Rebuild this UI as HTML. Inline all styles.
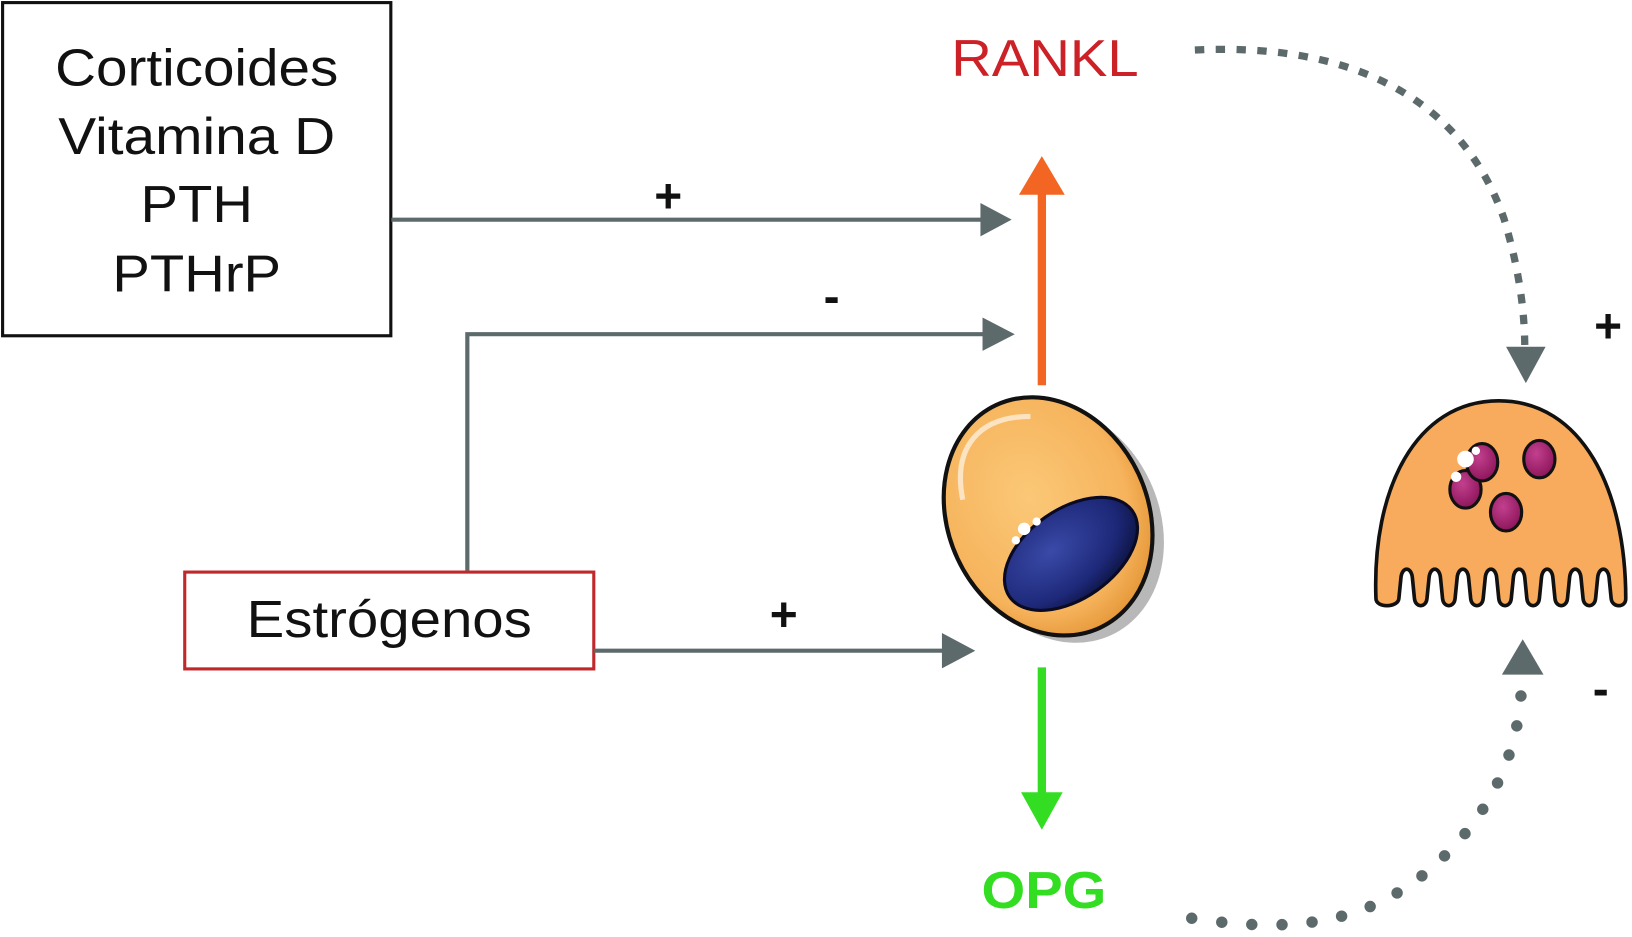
<!DOCTYPE html>
<html><head><meta charset="utf-8"><style>
html,body{margin:0;padding:0;background:#fff;width:1632px;height:937px;overflow:hidden}
svg{display:block}
text{font-family:"Liberation Sans",sans-serif}
</style></head><body>
<svg width="1632" height="937" viewBox="0 0 1568 900" preserveAspectRatio="none" xmlns="http://www.w3.org/2000/svg">
<defs>
<radialGradient id="cg" cx="0.45" cy="0.4" r="0.6"><stop offset="0" stop-color="#fbc877"/><stop offset="0.8" stop-color="#f6b35c"/><stop offset="1" stop-color="#e79a3c"/></radialGradient>
<radialGradient id="ng" cx="0.4" cy="0.35" r="0.7"><stop offset="0" stop-color="#3a4aa8"/><stop offset="0.7" stop-color="#1d2878"/><stop offset="1" stop-color="#0d1340"/></radialGradient>
<radialGradient id="pg" cx="0.4" cy="0.35" r="0.7"><stop offset="0" stop-color="#c2408e"/><stop offset="1" stop-color="#8a1358"/></radialGradient>
</defs>
<rect x="2.5" y="2.5" width="373" height="320" fill="#fff" stroke="#111" stroke-width="3"/>
<g font-size="50" text-anchor="middle" fill="#111">
<text x="189" y="82" textLength="272" lengthAdjust="spacingAndGlyphs">Corticoides</text>
<text x="189" y="148" textLength="266" lengthAdjust="spacingAndGlyphs">Vitamina D</text>
<text x="189" y="213" textLength="108" lengthAdjust="spacingAndGlyphs">PTH</text>
<text x="189" y="280" textLength="162" lengthAdjust="spacingAndGlyphs">PTHrP</text>
</g>
<rect x="177.5" y="549.5" width="393" height="93" fill="#fff" stroke="#c0282a" stroke-width="3"/>
<text x="374" y="612" font-size="50" text-anchor="middle" fill="#111" textLength="274" lengthAdjust="spacingAndGlyphs">Estrógenos</text>
<g stroke="#5d6a6b" stroke-width="4" fill="none">
<line x1="376" y1="211" x2="945" y2="211"/>
<polyline points="449,548 449,321 945,321"/>
<line x1="571" y1="625" x2="908" y2="625"/>
</g>
<g fill="#5d6a6b">
<polygon points="942,195 972,211 942,227"/>
<polygon points="944,305 975,321 944,337"/>
<polygon points="905,608 937,625 905,642"/>
</g>
<g font-size="46" font-weight="bold" fill="#111" text-anchor="middle">
<text x="642" y="204">+</text>
<text x="799" y="300">-</text>
<text x="753" y="606">+</text>
<text x="1545" y="329">+</text>
<text x="1538" y="677">-</text>
</g>
<line x1="1001" y1="370" x2="1001" y2="183" stroke="#f26522" stroke-width="8"/>
<polygon points="979,187 1001,150 1023,187" fill="#f26522"/>
<line x1="1001" y1="641" x2="1001" y2="765" stroke="#33dd22" stroke-width="8"/>
<polygon points="981,761 1001,797 1021,761" fill="#33dd22"/>
<text x="1004" y="73" font-size="50" fill="#cc2127" text-anchor="middle" textLength="180" lengthAdjust="spacingAndGlyphs">RANKL</text>
<text x="1003" y="872" font-size="50" font-weight="bold" fill="#33dd22" text-anchor="middle" textLength="120" lengthAdjust="spacingAndGlyphs">OPG</text>
<path d="M1148,48 C1320,40 1410,110 1445,210 C1460,260 1465,300 1465,336" fill="none" stroke="#5d6a6b" stroke-width="7" stroke-dasharray="9,11"/>
<polygon points="1447,333 1466,368 1485,333" fill="#5d6a6b"/>
<path d="M1145,882 C1260,900 1330,880 1390,820 C1440,770 1462,710 1462,650" fill="none" stroke="#5d6a6b" stroke-width="11" stroke-linecap="round" stroke-dasharray="0,29"/>
<polygon points="1443,648 1463,614 1483,648" fill="#5d6a6b"/>
<!-- osteoblast -->
<ellipse cx="1018" cy="503" rx="96" ry="118" transform="rotate(-25 1018 503)" fill="#333" opacity="0.35"/>
<ellipse cx="1007" cy="496" rx="96" ry="118" transform="rotate(-25 1007 496)" fill="url(#cg)" stroke="#111" stroke-width="4"/>
<path d="M925,480 C915,430 940,400 990,400" stroke="#fff" stroke-width="5" fill="none" opacity="0.6"/>
<ellipse cx="1029" cy="532" rx="72" ry="43" transform="rotate(-35 1029 532)" fill="url(#ng)" stroke="#0a0a22" stroke-width="3"/>
<circle cx="984" cy="508" r="6" fill="#fff"/><circle cx="996" cy="501" r="4" fill="#fff"/><circle cx="976" cy="519" r="4" fill="#fff"/>
<!-- osteoclast -->
<path d="M1322,575 C1318,470 1360,385 1440,385 C1520,385 1562,470 1562,575 C1562,584 1549,584 1548,575 L1546,555 C1545,544 1536,544 1535,555 L1533,575 C1532,584 1522,584 1521,575 L1519,555 C1518,544 1509,544 1508,555 L1506,575 C1505,584 1495,584 1494,575 L1492,555 C1491,544 1482,544 1481,555 L1479,575 C1478,584 1468,584 1467,575 L1465,555 C1464,544 1455,544 1454,555 L1452,575 C1451,584 1441,584 1440,575 L1438,555 C1437,544 1428,544 1427,555 L1425,575 C1424,584 1414,584 1413,575 L1411,555 C1410,544 1401,544 1400,555 L1398,575 C1397,584 1387,584 1386,575 L1384,555 C1383,544 1374,544 1373,555 L1371,575 C1370,584 1360,584 1359,575 L1357,555 C1356,544 1347,544 1346,555 L1344,575 C1343,584 1322,584 1322,575 Z" fill="#f8ab5c" stroke="#111" stroke-width="3.5"/>
<g stroke="#111" stroke-width="3" fill="url(#pg)">
<ellipse cx="1408" cy="470" rx="15" ry="18"/>
<ellipse cx="1424" cy="444" rx="15" ry="18"/>
<ellipse cx="1479" cy="441" rx="15" ry="18"/>
<ellipse cx="1447" cy="492" rx="15" ry="18"/>
</g>
<circle cx="1408" cy="441" r="8" fill="#fff"/><circle cx="1399" cy="458" r="5" fill="#fff"/><circle cx="1418" cy="433" r="4" fill="#fff"/>
</svg>
</body></html>
